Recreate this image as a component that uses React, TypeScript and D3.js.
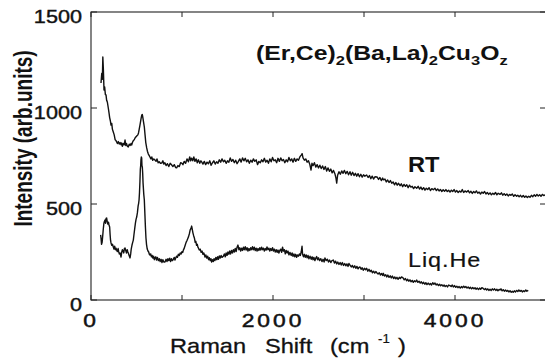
import React from "react";
import * as d3 from "d3";

const W = 545;
const H = 358;

const yTicks = [0, 500, 1000, 1500];
const xTicks = [0, 1000, 2000, 3000, 4000, 5000];
const xTickLabels = ["0", "", "2000", "", "4000", ""];

const rtSeries: [number, number][] = [
  [110,1130],[118,1180],[125,1150],[130,1266],[136,1200],[143,1094],[150,1110],[158,1070],[165,1068],[172,1040],[180,1030],[190,1000],[198,975],[205,950],[212,935],[220,911],[228,920],[235,890],[245,875],[255,860],[265,835],[275,830],[282,823],[290,815],[300,825],[310,812],[320,820],[330,808],[337,818],[345,800],[355,815],[365,808],[374,833],[382,805],[390,815],[400,800],[410,797],[420,812],[430,805],[440,815],[447,807],[455,820],[465,830],[475,835],[484,844],[495,850],[505,855],[515,860],[522,870],[530,890],[538,911],[545,930],[552,950],[558,963],[564,966],[570,950],[578,925],[586,901],[594,860],[602,820],[612,792],[620,775],[630,760],[640,752],[648,745],[658,735],[668,745],[678,728],[690,735],[703,729],[715,722],[725,735],[738,715],[750,720],[763,712],[777,713],[790,725],[800,708],[812,715],[825,700],[840,710],[855,695],[870,712],[887,703],[900,695],[915,705],[930,690],[941,688],[955,700],[970,695],[985,715],[997,713],[1010,705],[1025,722],[1040,712],[1055,735],[1070,720],[1085,745],[1095,725],[1106,739],[1118,725],[1130,745],[1142,722],[1155,735],[1168,715],[1180,730],[1195,712],[1208,725],[1216,719],[1230,708],[1245,722],[1260,705],[1275,718],[1290,710],[1305,725],[1320,702],[1335,715],[1350,725],[1365,708],[1380,720],[1395,712],[1410,730],[1425,718],[1440,735],[1455,720],[1470,728],[1485,712],[1500,725],[1515,718],[1530,740],[1545,722],[1560,732],[1575,715],[1590,728],[1605,710],[1620,722],[1635,735],[1650,718],[1665,740],[1680,725],[1695,738],[1710,720],[1725,730],[1740,712],[1755,728],[1770,718],[1785,735],[1800,722],[1815,730],[1830,705],[1845,722],[1860,715],[1875,730],[1890,720],[1905,738],[1920,718],[1935,728],[1950,712],[1965,735],[1980,720],[1995,742],[2010,725],[2025,730],[2040,715],[2055,738],[2070,722],[2085,740],[2100,725],[2115,732],[2130,715],[2145,730],[2160,720],[2175,742],[2190,725],[2205,735],[2220,718],[2235,738],[2250,722],[2265,735],[2280,728],[2295,745],[2310,755],[2320,762],[2330,740],[2345,728],[2360,735],[2375,718],[2390,725],[2405,705],[2418,677],[2428,712],[2440,700],[2455,715],[2470,692],[2485,705],[2500,688],[2515,702],[2530,685],[2545,698],[2560,680],[2575,695],[2590,672],[2605,688],[2620,670],[2635,682],[2650,662],[2665,675],[2680,658],[2692,635],[2700,609],[2710,650],[2725,668],[2740,655],[2755,672],[2770,660],[2785,675],[2800,658],[2815,670],[2830,652],[2846,668],[2860,650],[2875,665],[2890,648],[2905,660],[2920,645],[2935,658],[2950,642],[2965,655],[2980,640],[2995,652],[3010,645],[3029,651],[3045,638],[3060,648],[3075,632],[3090,645],[3105,630],[3120,642],[3143,641],[3160,628],[3175,638],[3190,622],[3205,635],[3212,626],[3230,630],[3245,615],[3260,625],[3275,612],[3290,622],[3305,608],[3320,615],[3335,600],[3350,612],[3365,598],[3380,608],[3396,595],[3410,605],[3425,590],[3440,602],[3455,592],[3470,600],[3485,585],[3500,598],[3515,588],[3530,592],[3545,580],[3560,590],[3579,582],[3595,592],[3610,578],[3625,588],[3640,575],[3655,585],[3670,572],[3685,582],[3700,575],[3715,585],[3730,570],[3745,580],[3762,574],[3780,582],[3795,570],[3810,578],[3825,568],[3840,576],[3855,565],[3870,574],[3885,566],[3900,575],[3915,565],[3930,572],[3945,562],[3960,572],[3975,565],[3990,575],[4005,562],[4020,570],[4035,560],[4050,568],[4065,562],[4080,575],[4095,560],[4110,568],[4128,562],[4145,570],[4160,558],[4175,566],[4190,555],[4205,565],[4220,558],[4235,568],[4250,556],[4265,562],[4280,552],[4295,562],[4310,556],[4325,565],[4340,552],[4355,560],[4370,550],[4385,558],[4400,548],[4415,556],[4430,550],[4445,560],[4460,548],[4475,556],[4494,550],[4510,558],[4525,546],[4540,554],[4555,545],[4570,552],[4585,542],[4600,550],[4615,545],[4630,552],[4645,540],[4660,548],[4677,540],[4690,546],[4705,538],[4720,545],[4735,536],[4750,544],[4765,535],[4780,542],[4795,534],[4810,540],[4824,535],[4840,545],[4855,538],[4870,548],[4885,540],[4900,550],[4915,542],[4930,548],[4945,540],[4960,550],[4975,544],[4990,548]
];

const liqHeSeries: [number, number][] = [
  [106,339],[110,323],[116,290],[122,300],[128,330],[135,370],[142,400],[148,410],[154,417],[160,400],[166,425],[172,427],[178,410],[185,395],[192,405],[198,391],[205,380],[210,340],[215,310],[220,297],[228,285],[236,290],[245,276],[252,265],[260,280],[268,262],[275,270],[282,260],[290,252],[298,268],[305,250],[312,240],[320,245],[330,224],[338,250],[345,262],[352,255],[360,245],[367,268],[374,271],[382,258],[390,245],[398,262],[405,250],[412,242],[420,230],[429,219],[436,240],[442,265],[450,285],[458,300],[465,312],[472,340],[480,370],[488,400],[495,420],[502,432],[510,455],[518,490],[524,505],[528,521],[533,560],[538,620],[542,680],[546,700],[549,729],[553,745],[557,740],[560,700],[564,693],[568,660],[572,610],[576,580],[580,550],[586,521],[592,450],[598,380],[604,323],[610,290],[618,265],[626,255],[634,250],[641,238],[648,234],[656,240],[664,225],[672,232],[680,218],[688,228],[696,210],[703,219],[712,225],[720,208],[730,222],[740,205],[750,215],[760,200],[770,212],[780,195],[790,210],[800,198],[813,198],[825,212],[835,200],[845,215],[855,205],[865,218],[875,200],[885,215],[895,205],[905,212],[915,222],[923,208],[932,220],[940,228],[950,222],[960,238],[970,232],[980,245],[990,240],[1000,252],[1008,248],[1015,260],[1025,270],[1035,285],[1045,300],[1055,310],[1065,322],[1072,330],[1081,345],[1090,365],[1098,372],[1106,385],[1112,370],[1120,350],[1128,335],[1136,323],[1145,300],[1152,305],[1160,285],[1168,290],[1175,275],[1180,271],[1190,260],[1200,265],[1210,248],[1220,255],[1230,238],[1240,245],[1253,224],[1262,235],[1272,218],[1282,228],[1292,210],[1300,220],[1310,205],[1318,215],[1326,198],[1335,210],[1344,200],[1352,215],[1362,205],[1372,222],[1382,210],[1392,225],[1400,212],[1410,230],[1420,218],[1430,232],[1440,222],[1454,228],[1465,240],[1475,225],[1485,245],[1495,232],[1505,250],[1515,238],[1525,255],[1535,240],[1545,258],[1555,245],[1565,262],[1575,250],[1585,268],[1595,252],[1605,275],[1615,286],[1625,262],[1635,272],[1645,255],[1655,270],[1665,258],[1675,275],[1685,262],[1695,278],[1705,260],[1715,272],[1725,255],[1735,268],[1745,258],[1755,272],[1765,262],[1775,278],[1785,262],[1795,275],[1805,258],[1815,270],[1825,255],[1835,268],[1845,258],[1855,272],[1865,260],[1875,275],[1885,262],[1895,270],[1905,255],[1915,268],[1925,260],[1934,276],[1945,262],[1955,270],[1965,255],[1975,268],[1985,258],[1995,272],[2005,255],[2015,265],[2025,250],[2035,262],[2045,248],[2055,260],[2065,245],[2075,258],[2085,265],[2095,248],[2105,275],[2115,255],[2125,262],[2135,240],[2145,258],[2155,245],[2165,255],[2175,235],[2187,248],[2200,232],[2210,245],[2220,228],[2230,240],[2240,225],[2250,238],[2260,222],[2270,235],[2280,228],[2290,240],[2300,232],[2310,250],[2319,280],[2325,238],[2335,225],[2345,238],[2355,222],[2365,235],[2375,220],[2385,232],[2395,215],[2407,228],[2420,212],[2430,225],[2440,210],[2450,222],[2460,205],[2470,218],[2480,226],[2490,210],[2500,220],[2512,205],[2525,215],[2538,200],[2550,212],[2562,198],[2571,219],[2585,205],[2598,212],[2610,198],[2622,208],[2635,195],[2648,205],[2663,208],[2675,192],[2688,202],[2700,188],[2712,198],[2725,185],[2738,195],[2750,182],[2762,195],[2775,180],[2788,190],[2800,178],[2812,188],[2825,175],[2835,190],[2846,182],[2860,172],[2872,180],[2885,168],[2898,178],[2910,165],[2922,175],[2935,162],[2945,170],[2956,172],[2968,160],[2980,168],[2992,155],[3005,165],[3018,158],[3029,165],[3042,150],[3055,160],[3068,148],[3080,155],[3092,142],[3105,150],[3118,140],[3130,148],[3143,141],[3155,135],[3168,142],[3180,130],[3192,138],[3205,128],[3212,139],[3225,125],[3238,132],[3250,120],[3262,130],[3275,118],[3288,126],[3300,115],[3312,125],[3325,112],[3338,120],[3350,110],[3362,118],[3375,108],[3388,118],[3400,112],[3412,120],[3429,115],[3442,105],[3455,112],[3468,100],[3480,108],[3492,98],[3505,105],[3518,95],[3530,102],[3542,92],[3555,100],[3568,95],[3579,104],[3592,92],[3605,98],[3618,88],[3630,95],[3642,85],[3655,92],[3668,82],[3680,90],[3692,80],[3705,88],[3718,80],[3730,86],[3742,78],[3755,90],[3768,82],[3780,88],[3792,78],[3805,84],[3818,75],[3830,82],[3842,74],[3855,80],[3868,72],[3880,78],[3892,70],[3905,76],[3918,68],[3930,78],[3945,75],[3958,70],[3970,78],[3982,68],[3995,75],[4008,66],[4020,72],[4032,64],[4045,70],[4058,62],[4070,70],[4082,64],[4095,72],[4108,65],[4120,70],[4132,62],[4145,68],[4158,60],[4170,66],[4182,58],[4195,65],[4208,58],[4220,64],[4232,56],[4245,62],[4258,55],[4270,62],[4282,56],[4295,64],[4310,60],[4322,54],[4335,60],[4348,52],[4360,58],[4372,50],[4385,56],[4398,50],[4410,58],[4422,52],[4435,58],[4448,50],[4460,56],[4472,48],[4485,55],[4494,52],[4505,58],[4518,48],[4530,54],[4542,46],[4555,52],[4568,45],[4580,50],[4592,42],[4605,48],[4618,40],[4630,46],[4640,40],[4652,48],[4665,42],[4678,50],[4690,44],[4702,52],[4715,45],[4728,50],[4740,42],[4752,48],[4765,44],[4778,52],[4790,46],[4805,50]
];

const FONT = "'Liberation Sans', Arial, Helvetica, sans-serif";

function T(props: {
  x: number; y: number; sx?: number; sy?: number; rot?: number; size: number;
  weight?: string | number; anchor?: string; ls?: number; children: React.ReactNode; stroke?: number;
}) {
  const { x, y, sx = 1, sy = 1, rot = 0, size, weight = "normal", anchor = "start", ls = 0, children, stroke = 0 } = props;
  return (
    <text
      transform={`translate(${x},${y}) rotate(${rot}) scale(${sx},${sy})`}
      fontFamily={FONT}
      fontSize={size}
      fontWeight={weight}
      textAnchor={anchor}
      letterSpacing={ls}
      fill="#111"
      stroke={stroke ? "#111" : "none"}
      strokeWidth={stroke}
    >
      {children}
    </text>
  );
}

export default function App() {
  const left = 91, right = 546, top = 12, bottom = 300;
  const x = d3.scaleLinear().domain([0, 5000]).range([left, right]);
  const y = d3.scaleLinear().domain([0, 1500]).range([bottom, top]);
  const line = d3.line<[number, number]>().x(d => x(d[0])).y(d => y(d[1]));

  return (
    <svg width={W} height={H} style={{ position: "absolute", left: 0, top: 0, background: "#fff" }}>
      <rect x={0} y={0} width={W} height={H} fill="#fff" />
      {/* frame */}
      <rect x={left} y={top} width={right - left} height={bottom - top} fill="none" stroke="#222" strokeWidth={1.1} />
      {yTicks.map(t => (
        <g key={"y" + t}>
          <line x1={left} x2={left + 6} y1={y(t)} y2={y(t)} stroke="#222" strokeWidth={1} />
          <line x1={right} x2={right - 6} y1={y(t)} y2={y(t)} stroke="#222" strokeWidth={1} />
          <T x={82} y={y(t) + 10.5} sx={1.17} size={18.5} anchor="end" stroke={0.4}>{String(t)}</T>
        </g>
      ))}
      {xTicks.map((t, i) => (
        <g key={"x" + t}>
          <line x1={x(t)} x2={x(t)} y1={bottom} y2={bottom - 5} stroke="#222" strokeWidth={1} />
          <line x1={x(t)} x2={x(t)} y1={top} y2={top + 5} stroke="#222" strokeWidth={1} />
          {xTickLabels[i] && (
            <T x={x(t)} y={327} sx={1.2} size={19} anchor="middle" ls={2.5} stroke={0.5}>{xTickLabels[i]}</T>
          )}
        </g>
      ))}
      <path d={line(rtSeries) || ""} fill="none" stroke="#111" strokeWidth={1.4} strokeLinejoin="round" />
      <path d={line(liqHeSeries) || ""} fill="none" stroke="#111" strokeWidth={1.4} strokeLinejoin="round" />

      {/* axis titles */}
      <T x={32} y={138.5} rot={-90} sy={1.4} size={19} weight="bold" anchor="middle">Intensity (arb.units)</T>
      <T x={170} y={353} sx={1.18} size={20} stroke={0.3}>Raman</T>
      <T x={265} y={353} sx={1.18} size={20} stroke={0.3}>Shift</T>
      <T x={330} y={353} sx={1.18} size={20} stroke={0.3}>(cm</T>
      <T x={378} y={343} sx={1.1} size={12} stroke={0.2}>-1</T>
      <T x={398} y={353} sx={1.18} size={20} stroke={0.3}>)</T>

      {/* formula */}
      <T x={256} y={59.5} sx={1.27} size={19.5} weight="bold">
        (Er,Ce)<tspan fontSize={13} dy={5}>2</tspan>
        <tspan dy={-5}>(Ba,La)</tspan><tspan fontSize={13} dy={5}>2</tspan>
        <tspan dy={-5}>Cu</tspan><tspan fontSize={13} dy={5}>3</tspan>
        <tspan dy={-5}>O</tspan><tspan fontSize={13} dy={5}>z</tspan>
      </T>
      <T x={408} y={172} sx={1.05} size={22.5} weight="bold">RT</T>
      <T x={408} y={267} sx={1.2} size={19.5} ls={0.8} stroke={0.2}>Liq.He</T>
    </svg>
  );
}
